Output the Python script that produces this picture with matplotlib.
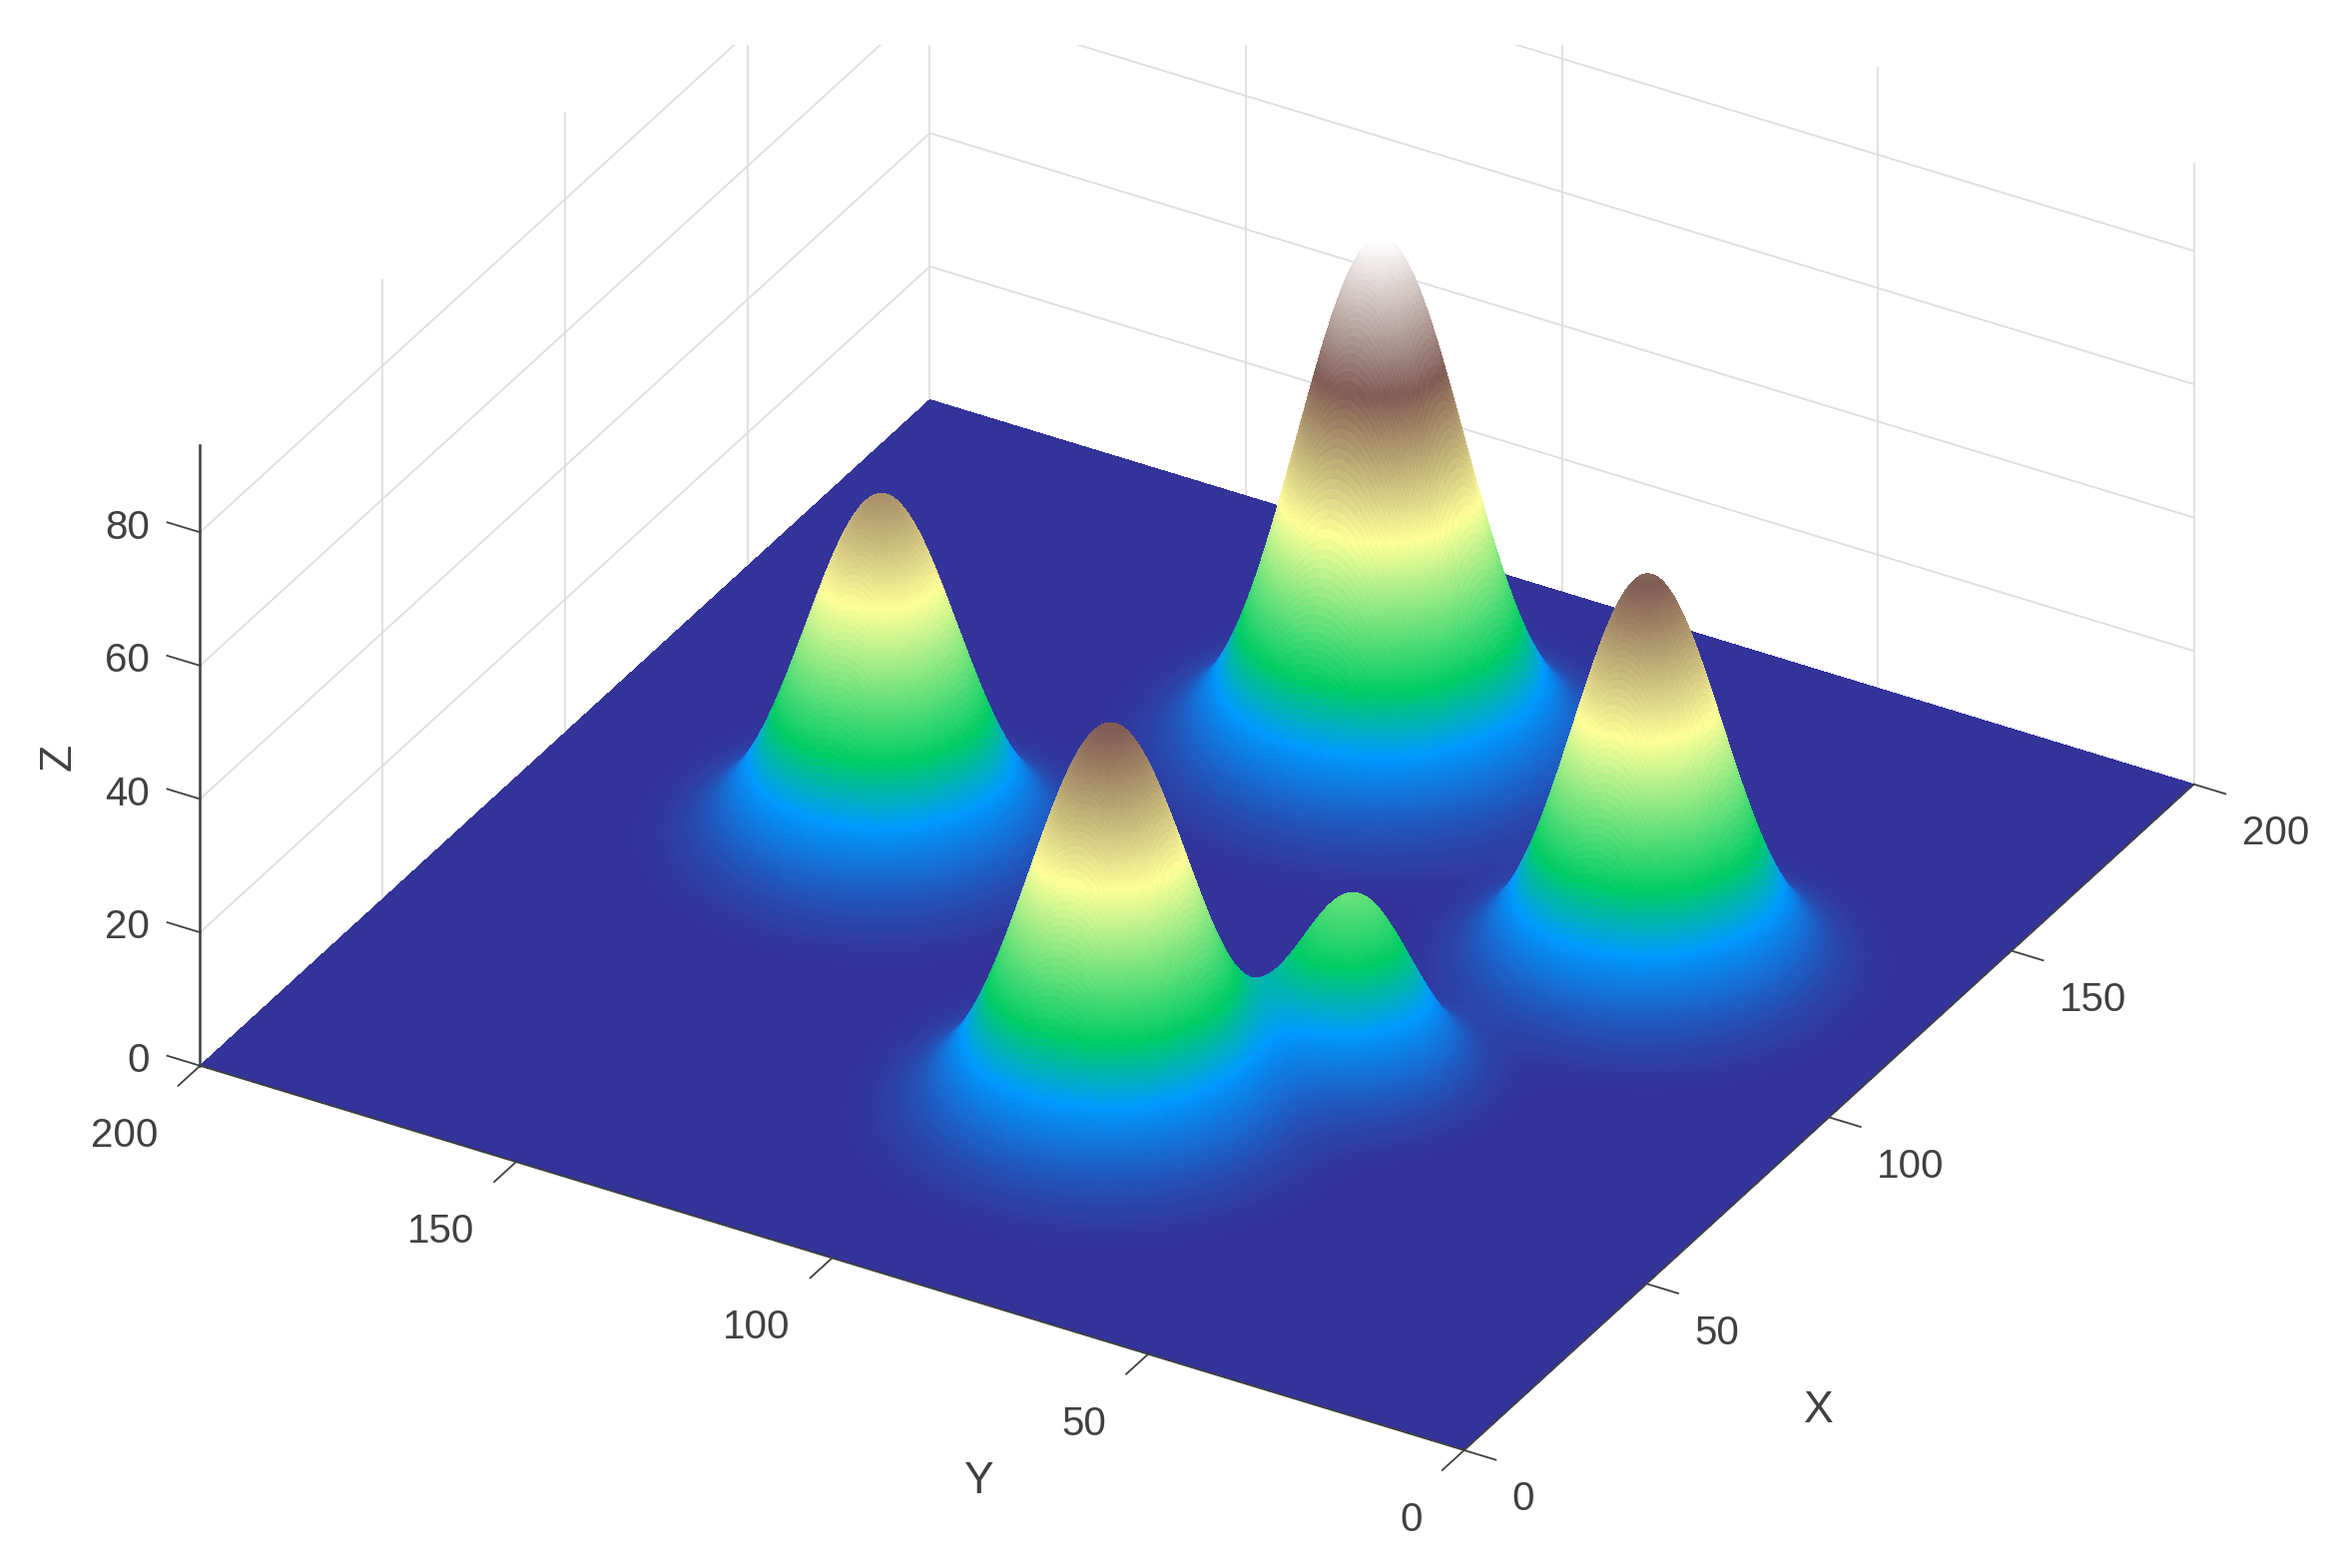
import numpy as np
import matplotlib
matplotlib.use('Agg')
import matplotlib.pyplot as plt
from matplotlib.patches import Rectangle
from mpl_toolkits.mplot3d import proj3d

plt.rcParams['font.family'] = ['Liberation Sans', 'DejaVu Sans']

# peaks
peak_x = [151.5, 97.7, 52.0, 121.7, 77.1]
peak_y = [100.7, 148.6, 86.0, 41.2, 61.8]
peak_h = [77.0, 51.5, 58.0, 58.5, 26.5]
peak_s = [11.5, 10.5, 11.2, 10.3, 8.0]

xy_ticks = [0, 50, 100, 150, 200]
z_ticks = [0, 20, 40, 60, 80]
z_top = 93

grid_col = '#dedede'
axis_col = '#404040'
text_col = '#404040'

xs = np.linspace(0, 200, 601)
X, Y = np.meshgrid(xs, xs)
Z = np.zeros_like(X)
for px, py, ph, ps in zip(peak_x, peak_y, peak_h, peak_s):
    Z += ph * np.exp(-((X - px)**2 + (Y - py)**2) / (2 * ps**2))

fig = plt.figure(figsize=(23.45, 15.71), dpi=100)
ax = fig.add_axes([0.0451, -0.0881, 0.9079, 1.3552], projection='3d', proj_type='ortho')
ax.set_box_aspect((1, 1, 0.5))
ax.view_init(elev=31.8, azim=-150)
ax.set_axis_off()
ax.computed_zorder = False
ax.set_xlim(0, 200)
ax.set_ylim(0, 200)
ax.set_zlim(0, z_top)
ax.set_xticks([])
ax.set_yticks([])
ax.set_zticks([])


def label(x, y, z, s, ha, size=29):
    # text at a 3d point, drawn as plain 2d text
    a, b, _ = proj3d.proj_transform(x, y, z, ax.get_proj())
    ax.text2D(a, b, s, transform=ax.transData, ha=ha, va='center', fontsize=size, color=text_col)


colors = plt.cm.terrain(Z / Z.max())
ax.plot_surface(X, Y, Z, facecolors=colors, rstride=1, cstride=1, linewidth=0,
                antialiased=False, shade=False, zorder=2)

# back walls
for v in xy_ticks:
    ax.plot([v, v], [200, 200], [0, z_top], color=grid_col, lw=1.3, zorder=1)
    if v < 200:
        ax.plot([200, 200], [v, v], [0, z_top], color=grid_col, lw=1.3, zorder=1)
for z in z_ticks[1:]:
    ax.plot([0, 200], [200, 200], [z, z], color=grid_col, lw=1.3, zorder=1)
    ax.plot([200, 200], [0, 200], [z, z], color=grid_col, lw=1.3, zorder=1)

# axis lines
ax.plot([0, 0], [200, 200], [0, z_top], color=axis_col, lw=1.8, zorder=3)
ax.plot([0, 200], [0, 0], [0, 0], color=axis_col, lw=1.3, zorder=3)
ax.plot([0, 0], [0, 200], [0, 0], color=axis_col, lw=1.3, zorder=3)

for v in xy_ticks:
    ax.plot([v, v], [0, -5], [0, 0], color=axis_col, lw=1.3, zorder=3)
    ax.plot([0, -6], [v, v], [0, 0], color=axis_col, lw=1.3, zorder=3)
    label(v, -7.6, -5.2, str(v), 'left')
    label(-11.4, v, -4.8, str(v), 'right')
for z in z_ticks:
    ax.plot([0, 0], [200, 205.2], [z, z], color=axis_col, lw=1.3, zorder=3)
    label(0, 208, z - 1.6, str(z), 'right')

label(33.7, -36.7, -0.4, 'X', 'center', 32)
label(-39.7, 54, -0.4, 'Y', 'center', 32)
fig.text(59 / 2345, 1 - 758 / 1571, 'Z', rotation=90, ha='center', va='center', fontsize=32, color=text_col)

# reference is cropped just above the walls
fig.add_artist(Rectangle((0, 1 - 45 / 1571), 1, 45 / 1571, transform=fig.transFigure,
                         facecolor='white', edgecolor='none', zorder=10))

fig.savefig('out.png', dpi=100, facecolor='white')
